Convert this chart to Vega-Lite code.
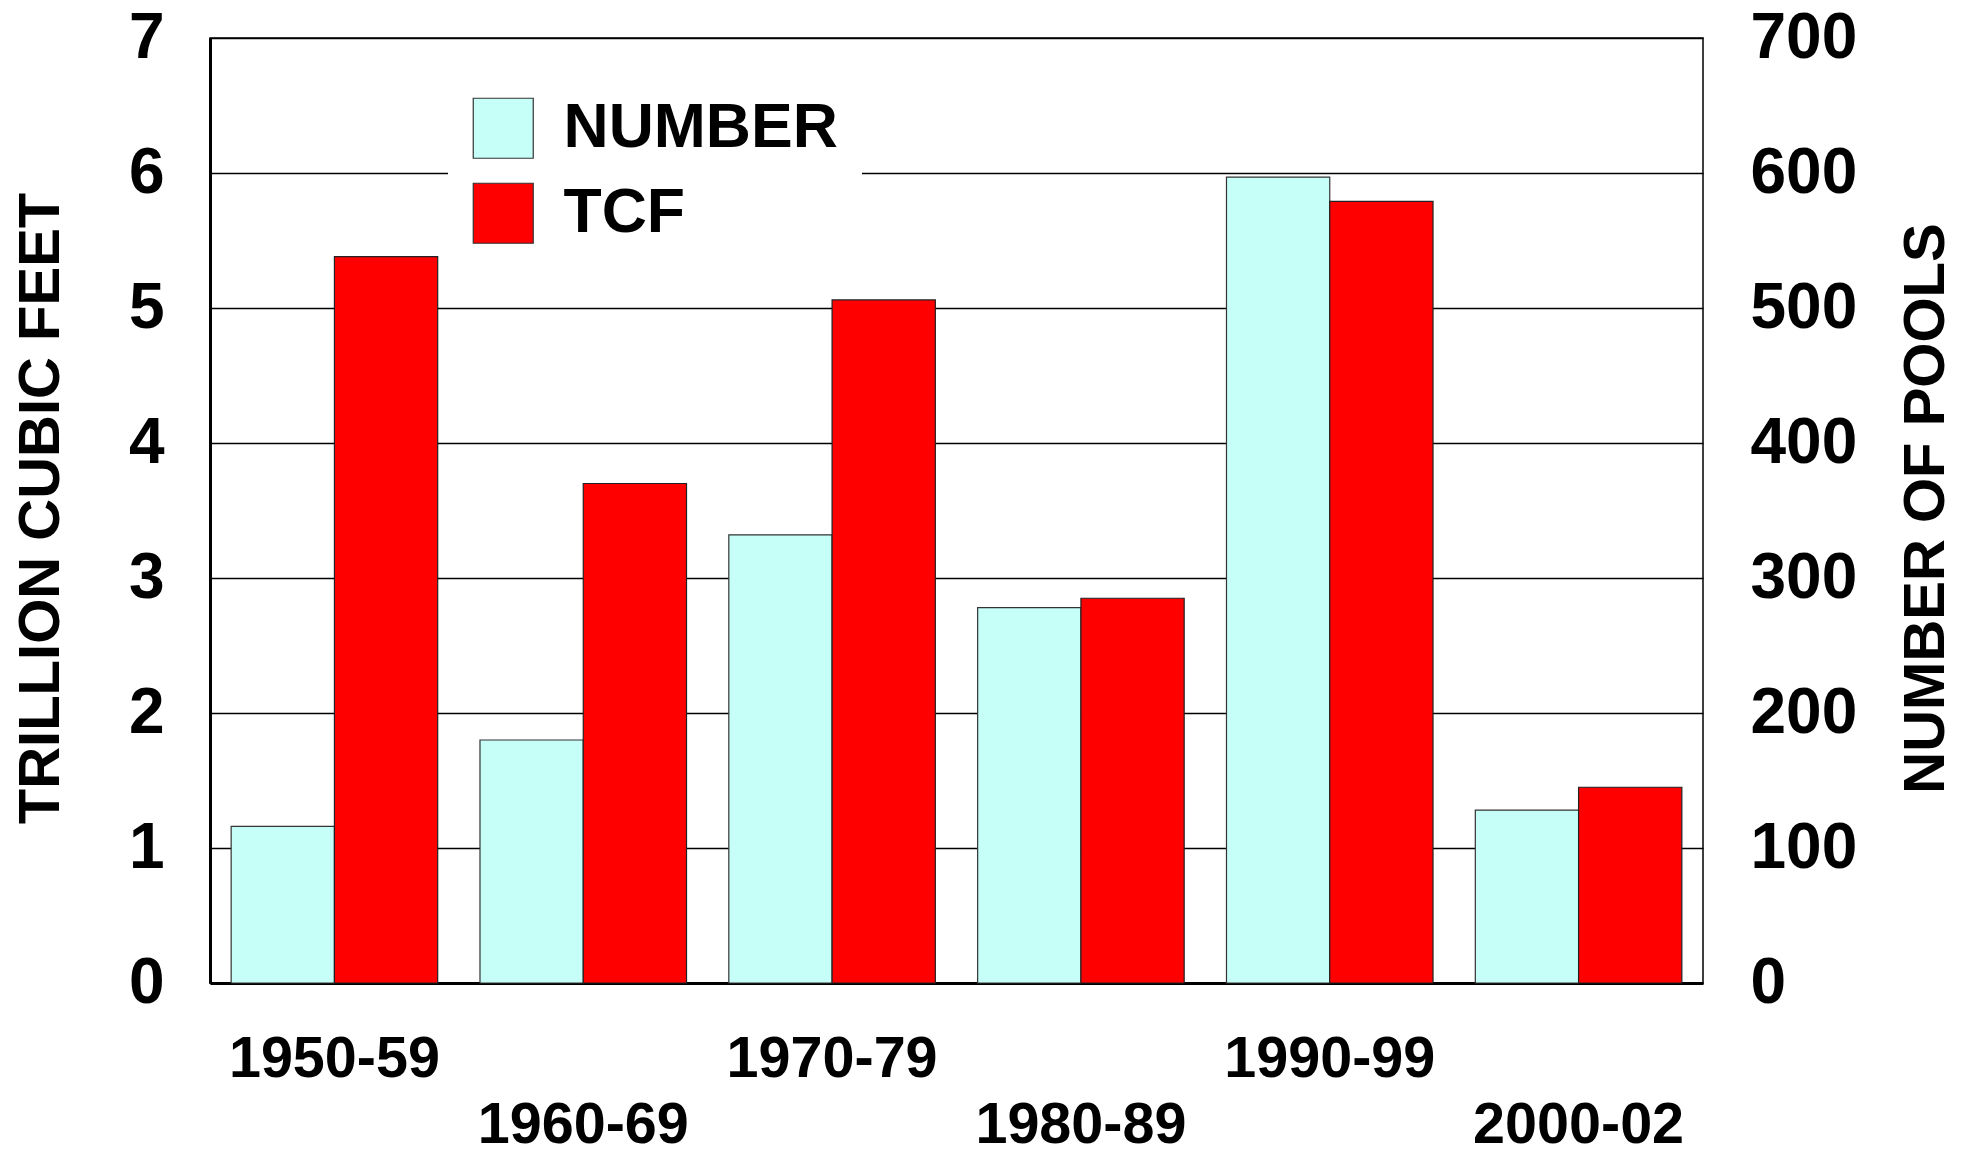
{
  "$schema": "https://vega.github.io/schema/vega-lite/v6.json",
  "autosize": {"type": "none"},
  "padding": {"left": 210, "top": 38, "right": 260, "bottom": 172},
  "width": 1493,
  "height": 945,
  "background": "white",
  "config": {
    "font": "Liberation Sans",
    "view": {"stroke": "black", "strokeWidth": 1.5},
    "axis": {"labelFont": "Liberation Sans", "titleFont": "Liberation Sans", "labelFontWeight": "bold", "titleFontWeight": "bold", "labelColor": "black", "titleColor": "black", "labelLimit": 600}
  },
  "data": {
    "values": [
      {"period": "1950-59", "series": "NUMBER", "value": 116},
      {"period": "1950-59", "series": "TCF", "value": 5.38},
      {"period": "1960-69", "series": "NUMBER", "value": 180},
      {"period": "1960-69", "series": "TCF", "value": 3.70},
      {"period": "1970-79", "series": "NUMBER", "value": 332},
      {"period": "1970-79", "series": "TCF", "value": 5.06},
      {"period": "1980-89", "series": "NUMBER", "value": 278},
      {"period": "1980-89", "series": "TCF", "value": 2.85},
      {"period": "1990-99", "series": "NUMBER", "value": 597},
      {"period": "1990-99", "series": "TCF", "value": 5.79},
      {"period": "2000-02", "series": "NUMBER", "value": 128},
      {"period": "2000-02", "series": "TCF", "value": 1.45}
    ]
  },
  "encoding": {
    "x": {
      "field": "period", "type": "nominal",
      "scale": {"paddingInner": 0.17, "paddingOuter": 0.085},
      "axis": {
        "title": null, "labelAngle": 0, "labelFontSize": 57.5, "ticks": false, "tickSize": 0, "labelLimit": 600,
        "domainColor": "black", "domainWidth": 3,
        "labelPadding": {"condition": {"test": "indexof(['1960-69','1980-89','2000-02'], datum.value) >= 0", "value": 114}, "value": 48}
      }
    },
    "xOffset": {"field": "series", "type": "nominal", "scale": {"domain": ["NUMBER", "TCF"], "paddingInner": 0, "paddingOuter": 0}},
    "color": {
      "field": "series", "type": "nominal",
      "scale": {"domain": ["NUMBER", "TCF"], "range": ["#C6FFF8", "#FF0000"]},
      "legend": {
        "title": null, "orient": "none", "legendX": 238, "legendY": 35,
        "fillColor": "white", "padding": 24,
        "symbolType": "square", "symbolSize": 3600, "symbolStrokeColor": "#333", "symbolStrokeWidth": 1.2, "symbolOpacity": 1,
        "labelFontSize": 62.5, "labelFontWeight": "bold", "labelFont": "Liberation Sans", "labelColor": "black", "labelOffset": 29,
        "rowPadding": 19, "labelLimit": 600
      }
    }
  },
  "layer": [
    {
      "transform": [{"filter": "datum.series == 'NUMBER'"}],
      "mark": {"type": "bar", "stroke": "#333", "strokeWidth": 1.2, "opacity": 1},
      "encoding": {
        "y": {
          "field": "value", "type": "quantitative",
          "scale": {"domain": [0, 700], "nice": false},
          "axis": {
            "orient": "right", "title": "NUMBER OF POOLS", "values": [0,100,200,300,400,500,600,700],
            "grid": false, "ticks": false, "tickSize": 0, "domain": false,
            "labelFontSize": 64, "labelPadding": 47,
            "titleFontSize": 58, "titleAngle": -90, "titleBaseline": "middle", "titleAlign": "center", "titleX": 223, "titleY": 470
          }
        }
      }
    },
    {
      "transform": [{"filter": "datum.series == 'TCF'"}],
      "mark": {"type": "bar", "stroke": "#222", "strokeWidth": 1.2, "opacity": 1},
      "encoding": {
        "y": {
          "field": "value", "type": "quantitative",
          "scale": {"domain": [0, 7], "nice": false},
          "axis": {
            "orient": "left", "title": "TRILLION CUBIC FEET", "values": [0,1,2,3,4,5,6,7],
            "grid": true, "gridColor": "black", "gridWidth": 1.5, "gridOpacity": 1,
            "ticks": false, "tickSize": 0, "domainColor": "black", "domainWidth": 3,
            "labelFontSize": 64, "labelPadding": 46,
            "titleFontSize": 58, "titleAngle": -90, "titleBaseline": "middle", "titleAlign": "center", "titleX": -169, "titleY": 470
          }
        }
      }
    }
  ],
  "resolve": {"scale": {"y": "independent"}}
}
